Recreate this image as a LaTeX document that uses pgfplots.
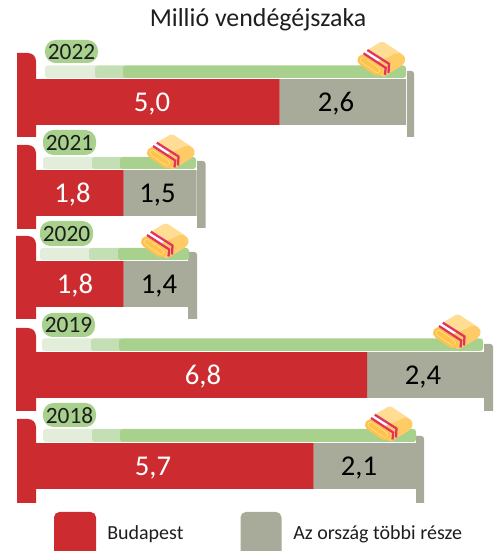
\documentclass[border=0pt]{standalone}
\usepackage{pgfplots}
\usepackage{pgfplotstable}
\usepackage{fontspec}
\setmainfont{Carlito}
\pgfplotsset{compat=1.18}
\definecolor{bpred}{HTML}{CC2C30}
\definecolor{restgrey}{HTML}{A8AB99}
\definecolor{gfull}{HTML}{A9D18E}
\definecolor{gmid}{HTML}{C5DFB5}
\definecolor{glight}{HTML}{E3EEDA}
\definecolor{txt}{HTML}{1E1E1E}
\definecolor{blight}{HTML}{FFDD94}
\definecolor{bmid}{HTML}{FFCB66}
\definecolor{broll}{HTML}{FFC34D}
\definecolor{bring}{HTML}{FFDF8C}
\definecolor{bstripe}{HTML}{E2335F}
\pgfplotstableread{
year budapest rest
2018 5.7 2.1
2019 6.8 2.4
2020 1.8 1.4
2021 1.8 1.5
2022 5.0 2.6
}\nightsdata
\tikzset{px/.style={x=0.75pt,y=-0.75pt,shift={(0pt,413.25pt)}}}
\newcommand{\leftpost}[3]{\fill[bpred] (#1,#3) -- (#1,#2) [rounded corners=6pt] -- (36,#2) [sharp corners] -- (36,#3) -- cycle;}
\newcommand{\rightpost}[4]{\fill[restgrey] (#1,#4) -- (#1,#3) [rounded corners=2pt] -- (#2,#3) [sharp corners] -- (#2,#4) -- cycle;}
\newcommand{\mattress}[6]{%
  \fill[glight,rounded corners=2pt] (#1,#5) rectangle (#2+4,#6);
  \fill[gmid,rounded corners=2pt] (#2,#5) rectangle (#3+4,#6);
  \fill[gfull,rounded corners=2pt] (#3,#5) -- (#4,#5) -- (#4,#6) -- (#3,#6) -- cycle;}
\newcommand{\pill}[5]{%
  \fill[gfull,rounded corners=8pt] (#1,#3) rectangle (#2,#4);
  \node[text=txt,font=\fontsize{17.5}{17.5}\selectfont,inner sep=0pt] at ({(#1+#2)/2},{(#3+#4)/2+0.5}) {#5};}
\newcommand{\blanket}[2]{%
  \begin{scope}[shift={(#1,#2)}]
  \fill[blight,rounded corners=1.5pt] (-13.7,-9.3) -- (1.3,-18.3) -- (21,-5.3) -- (8,4) -- cycle;
  \fill[bmid,rounded corners=1.5pt] (4.7,-1) -- (16.3,-6.7) -- (22.3,-5) -- (24.7,0.7) -- (22,5.7) -- (1.3,18.3) -- (-9,4) -- cycle;
  \draw[broll,line width=8.4pt,line cap=round] (-18,0.8) -- (-3.5,10.8);
  \draw[bring,line width=4.4pt,line cap=round] (-18,0.8) -- (-3.5,10.8);
  \draw[broll,line width=3.2pt,line cap=round] (-18,0.8) -- (-3.5,10.8);
  \draw[bstripe,line width=1.7pt] (-13.7,-9.3) -- (8,4.5) -- (7.5,13.5);
  \draw[bstripe,line width=1.7pt] (-17.5,-6) -- (4.7,8.5) -- (4,15.5);
  \end{scope}}
\newcommand{\vallabel}[4]{\node[text=#1,font=\fontsize{21.5}{21.5}\selectfont,inner sep=0pt] at (#2,#3+2) {#4};}
\begin{document}
\begin{tikzpicture}
\path[use as bounding box] (0pt,0pt) rectangle (370.5pt,413.25pt);
\begin{scope}[px]
  \leftpost{17}{53}{137}\rightpost{407}{414}{71}{137}
  \mattress{45}{95}{123}{406}{65.5}{78}
  \leftpost{17}{145}{229}\rightpost{197}{205.5}{161}{228}
  \mattress{43}{92}{120}{196}{157}{169}
  \leftpost{16}{236}{319}\rightpost{188}{197}{252}{319}
  \mattress{40}{89}{118}{189}{248}{260}
  \leftpost{16}{328}{411}\rightpost{484}{493}{344}{411}
  \mattress{42}{91}{119}{483}{338.5}{351}
  \leftpost{17}{419}{503}\rightpost{416}{424}{436}{503}
  \mattress{43}{92}{120}{416}{429}{442}
\end{scope}
\begin{axis}[
  at={(0pt,0pt)},anchor=south west,
  scale only axis,width=370.5pt,height=413.25pt,
  hide axis,
  xbar stacked,bar width=34.2pt,
  xmin=-0.7392,xmax=9.4045,
  ymin=2017.066,ymax=2023.121,
  clip=false]
\addplot[fill=bpred,draw=none] table[x=budapest,y=year] {\nightsdata};
\addplot[fill=restgrey,draw=none] table[x=rest,y=year] {\nightsdata};
\end{axis}
\begin{scope}[px]
  \node[text=txt,font=\fontsize{19.4}{19.4}\selectfont,inner sep=0pt] at (258,20) {Millió vendégéjszaka};
  \pill{45}{98}{40}{63}{2022}
  \pill{43}{96}{130}{155}{2021}
  \pill{40}{93}{221}{246}{2020}
  \pill{42}{95}{313}{337}{2019}
  \pill{43}{96}{403}{427}{2018}
  \blanket{381}{59.3}
  \blanket{170.5}{152}
  \blanket{164.5}{241}
  \blanket{456.5}{332}
  \blanket{388.5}{424}
  \vallabel{white}{152}{102}{5,0}\vallabel{black}{336}{102}{2,6}
  \vallabel{white}{72.5}{193}{1,8}\vallabel{black}{157.5}{193}{1,5}
  \vallabel{white}{75}{284}{1,8}\vallabel{black}{159}{284}{1,4}
  \vallabel{white}{203}{375}{6,8}\vallabel{black}{423}{375}{2,4}
  \vallabel{white}{153}{466}{5,7}\vallabel{black}{359}{466}{2,1}
  \begin{scope}
    \clip (0,490) rectangle (494,551);
    \fill[bpred,rounded corners=4pt] (54,512) rectangle (96,560);
    \fill[restgrey,rounded corners=4pt] (240.5,512) rectangle (281.5,560);
  \end{scope}
  \node[text=txt,font=\fontsize{15}{15}\selectfont,inner sep=0pt,anchor=west] at (107,534.5) {Budapest};
  \node[text=txt,font=\fontsize{15}{15}\selectfont,inner sep=0pt,anchor=west] at (293,534.5) {Az ország többi része};
\end{scope}
\end{tikzpicture}
\end{document}
